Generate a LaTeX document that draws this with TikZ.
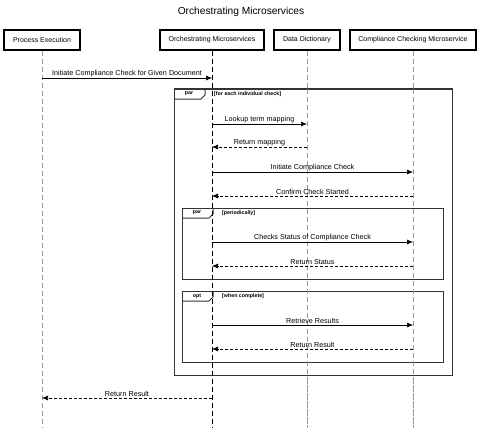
\documentclass[tikz,border=0pt]{standalone}
\usepackage{fontspec}
\setmainfont{Liberation Sans}
\usetikzlibrary{arrows.meta}
\begin{document}
\begin{tikzpicture}[x=1pt,y=-1pt,
  part/.style={draw=black,line width=1.1pt,minimum height=20pt,inner sep=2pt,font=\fontsize{7}{8}\selectfont},
  lifeb/.style={draw=black,line width=0.8pt,dash pattern=on 5pt off 3pt},
  lifeg/.style={draw=gray!80,line width=0.9pt,dash pattern=on 5pt off 3pt},
  msg/.style={draw=black,line width=0.6pt,-{Latex[length=6pt,width=5pt]}},
  ret/.style={draw=black,line width=0.6pt,dash pattern=on 3pt off 2pt,-{Latex[length=6pt,width=5pt]}},
  lbl/.style={font=\fontsize{7.2}{8}\selectfont,inner sep=1pt,anchor=south},
  frame/.style={draw=black!80,line width=1pt},
  ftag/.style={font=\bfseries\fontsize{5.3}{6}\selectfont,inner sep=0pt},
  fcond/.style={font=\bfseries\fontsize{5.3}{6}\selectfont,inner sep=0pt,anchor=west}
]
\useasboundingbox (0,0) rectangle (482,428);
\node[font=\fontsize{10.2}{11}\selectfont] (title) at (241,12) {Orchestrating Microservices};
% participants
\node[part,minimum width=76pt] (pe) at (42,40) {Process Execution};
\node[part,minimum width=104pt] (om) at (212,40) {Orchestrating Microservices};
\node[part,minimum width=66pt] (dd) at (307,40) {Data Dictionary};
\node[part,minimum width=126pt] (cc) at (413,40) {Compliance Checking Microservice};
\coordinate (peE) at (42,428);
\coordinate (omE) at (212,428);
\coordinate (ddE) at (307,428);
\coordinate (ccE) at (413,428);
\draw[lifeg] (pe.south) -- (peE);
\draw[lifeg] (dd.south) -- (ddE);
\draw[lifeg] (cc.south) -- (ccE);
% frames
\draw[frame,fill=white] (174,89) rectangle (452,375);
\draw[frame] (174,99) -- (201,99) -- (205,95) -- (205,89);
\node[ftag] (t1) at (189,94) {par};
\node[fcond] (c1) at (214,94) {[for each individual check]};
\draw[frame] (182,208) rectangle (443,279);
\draw[frame] (182,218) -- (209,218) -- (213,214) -- (213,208);
\node[ftag] (t2) at (197,213) {par};
\node[fcond] (c2) at (222,213) {[periodically]};
\draw[frame] (182,291) rectangle (443,362);
\draw[frame] (182,301) -- (209,301) -- (213,297) -- (213,291);
\node[ftag] (t3) at (197,296) {opt};
\node[fcond] (c3) at (222,296) {[when complete]};
% redraw lifelines over frame fill
\draw[lifeg] (307,89) -- (ddE);
\draw[lifeg] (413,89) -- (ccE);
\draw[lifeb] (om.south) -- (omE);
% messages
\coordinate (m1a) at (42,78); \coordinate (m1b) at (212,78);
\draw[msg] (m1a) -- node[lbl,pos=0.5]{Initiate Compliance Check for Given Document} (m1b);
\coordinate (m2a) at (212,124); \coordinate (m2b) at (307,124);
\draw[msg] (m2a) -- node[lbl]{Lookup term mapping} (m2b);
\coordinate (m3a) at (307,147); \coordinate (m3b) at (212,147);
\draw[ret] (m3a) -- node[lbl]{Return mapping} (m3b);
\coordinate (m4a) at (212,172); \coordinate (m4b) at (413,172);
\draw[msg] (m4a) -- node[lbl]{Initiate Compliance Check} (m4b);
\coordinate (m5a) at (413,196); \coordinate (m5b) at (212,196);
\draw[ret] (m5a) -- node[lbl]{Confirm Check Started} (m5b);
\coordinate (m6a) at (212,242); \coordinate (m6b) at (413,242);
\draw[msg] (m6a) -- node[lbl]{Checks Status of Compliance Check} (m6b);
\coordinate (m7a) at (413,266); \coordinate (m7b) at (212,266);
\draw[ret] (m7a) -- node[lbl]{Return Status} (m7b);
\coordinate (m8a) at (212,325); \coordinate (m8b) at (413,325);
\draw[msg] (m8a) -- node[lbl]{Retrieve Results} (m8b);
\coordinate (m9a) at (413,349); \coordinate (m9b) at (212,349);
\draw[ret] (m9a) -- node[lbl]{Return Result} (m9b);
\coordinate (m10a) at (212,398); \coordinate (m10b) at (42,398);
\draw[ret] (m10a) -- node[lbl]{Return Result} (m10b);
\end{tikzpicture}
\end{document}
